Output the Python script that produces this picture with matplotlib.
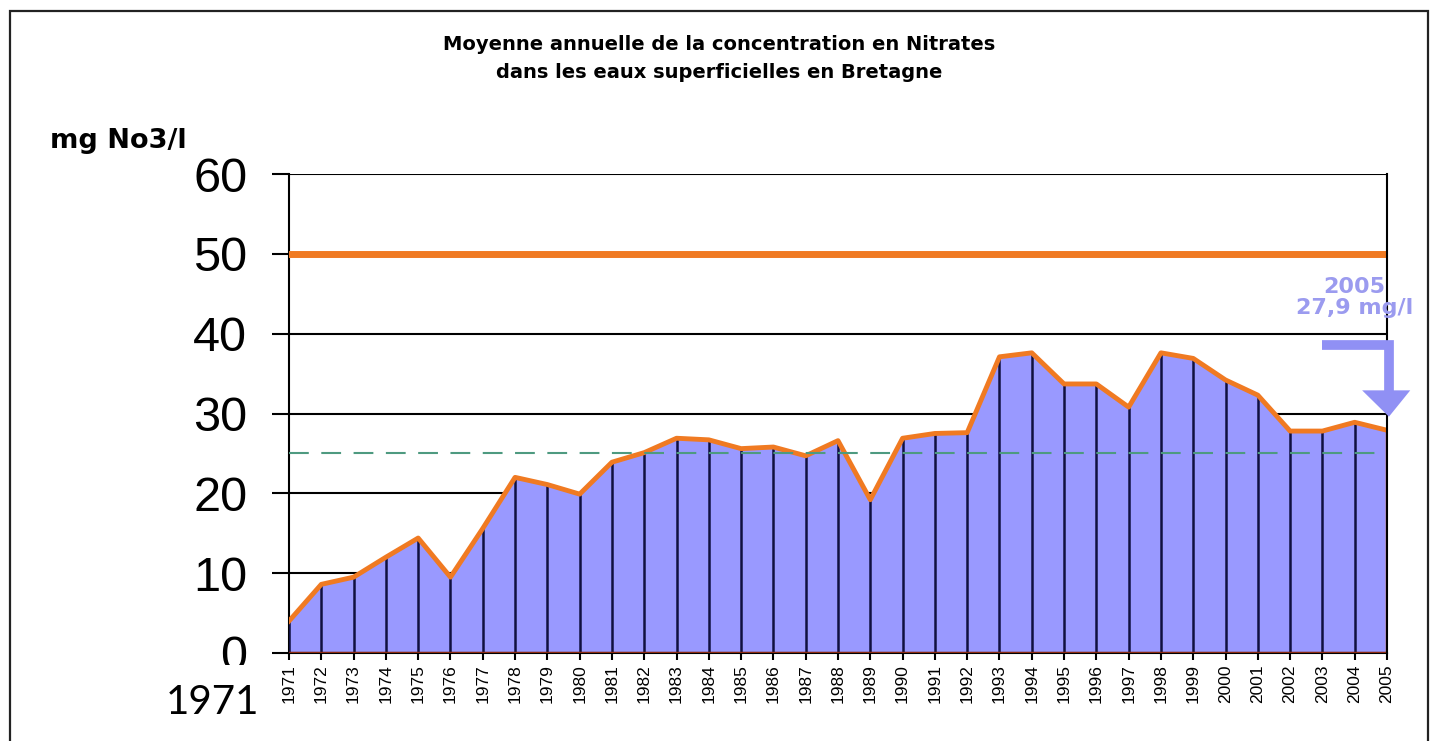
import matplotlib.pyplot as plt
import matplotlib.patches as patches
import numpy as np

# Annual mean nitrate concentration (mg NO3/l), surface waters, Brittany
years = np.arange(1971, 2006)
nitrates = [4.0, 8.6, 9.5, 12.0, 14.4, 9.5, 15.6, 22.0, 21.1, 19.9,
            23.9, 25.1, 26.9, 26.7, 25.6, 25.8, 24.7, 26.6, 19.2, 26.9,
            27.5, 27.6, 37.1, 37.6, 33.7, 33.7, 30.8, 37.6, 36.9, 34.2,
            32.3, 27.8, 27.8, 28.9, 27.9]
limit = 50
guide = 25
yticks = [0, 10, 20, 30, 40, 50, 60]

fill_col = '#9999ff'
orange = '#f07a22'

fig = plt.figure(figsize=(14.32, 7.41), dpi=100)
ax = fig.add_axes([289 / 1432, 1 - 653 / 741, 1098 / 1432, 479 / 741])

# outer frame of the picture
fig.add_artist(patches.Rectangle((10 / 1432, -0.01), 1418 / 1432, 1 - 11 / 741 + 0.01,
                                 transform=fig.transFigure, fill=False,
                                 edgecolor='#222222', linewidth=1.6))

# horizontal grid, under the area
for v in yticks[1:]:
    ax.axhline(v, color='black', linewidth=1.5, zorder=1)

ax.fill_between(years, nitrates, 0, color=fill_col, zorder=2, linewidth=0)
ax.vlines(years, 0, nitrates, color='#101040', linewidth=1.8, zorder=3)
ax.plot(years, nitrates, color=orange, linewidth=3.5, zorder=4,
        solid_joinstyle='round')
ax.vlines(years[-1], 0, nitrates[-1], color=orange, linewidth=2.5, zorder=4)
ax.axhline(0, color='#8b2a10', linewidth=2.5, zorder=5)
ax.axhline(limit, color=orange, linewidth=5, zorder=4)
ax.axhline(guide, color='#4e9a80', linewidth=1.5, dashes=(9.5, 6), zorder=5)

ax.set_xlim(years[0], years[-1])
ax.set_ylim(0, 60)
ax.set_yticks(yticks)
ax.set_yticklabels([str(v) for v in yticks], fontsize=35,
                   family='Liberation Sans')
ax.set_xticks(years)
ax.set_xticklabels([str(y) for y in years], rotation=90, fontsize=12.5,
                   family='Liberation Sans')
ax.tick_params(axis='y', length=12, width=1.5, pad=18)
ax.tick_params(axis='x', length=5, width=1.5, pad=3)
for s in ['left', 'right', 'bottom']:
    ax.spines[s].set_linewidth(1.5)
ax.spines['top'].set_visible(False)
ax.spines['right'].set_zorder(6)

# annotation for 2005 with bent arrow
ax.text(2004.0, 42.0, '2005\n27,9 mg/l', ha='center', va='bottom',
        fontsize=16, fontweight='bold', color='#9b9bef', linespacing=1.05,
        clip_on=False, zorder=7)
ax.plot([2003.0, 2005.06, 2005.06], [38.6, 38.6, 32.7], color='#9090f4',
        linewidth=7, solid_joinstyle='miter', solid_capstyle='butt',
        clip_on=False, zorder=7)
ax.fill([2004.23, 2005.72, 2005.06], [32.9, 32.9, 29.6], color='#9090f4',
        clip_on=False, zorder=7, linewidth=0)

# titles
fig.text(0.502, 1 - 45 / 741, 'Moyenne annuelle de la concentration en Nitrates',
         ha='center', va='center', fontsize=14, fontweight='bold')
fig.text(0.502, 1 - 73 / 741, 'dans les eaux superficielles en Bretagne',
         ha='center', va='center', fontsize=14, fontweight='bold')
fig.text(50 / 1432, 1 - 141 / 741, 'mg No3/l', ha='left', va='center',
         fontsize=19.5, fontweight='bold')

# white patch with the large "1971" label
fig.add_artist(patches.Rectangle((150 / 1432, 0), 132 / 1432, 1 - 665 / 741,
                                 transform=fig.transFigure, facecolor='white',
                                 edgecolor='none', zorder=10))
fig.text(212 / 1432, 1 - 703 / 741, '1971', ha='center', va='center',
         fontsize=29, family='Lato', zorder=11)

fig.savefig('out.png', dpi=100)
